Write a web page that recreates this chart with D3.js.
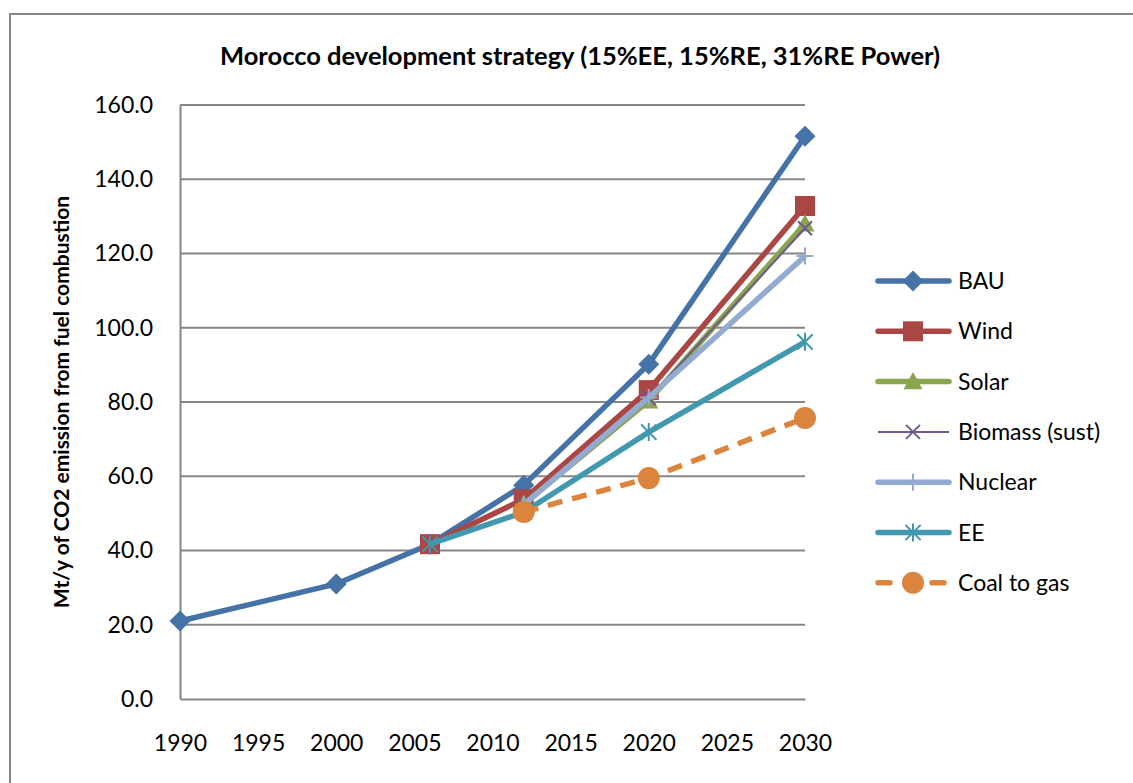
<!DOCTYPE html>
<html>
<head>
<meta charset="utf-8">
<script src="https://cdn.jsdelivr.net/npm/d3@7"></script>
<style>
  body { margin: 0; background: #fff; }
  text { font-family: Lato, "Open Sans", sans-serif; fill: #000; }
</style>
</head>
<body>
<script>
// chart data
var years = [1990, 2000, 2006, 2012, 2020, 2030];
var yTicks = [0, 20, 40, 60, 80, 100, 120, 140, 160];
var xTicks = [1990, 1995, 2000, 2005, 2010, 2015, 2020, 2025, 2030];

var bau = [21.0, 31.0, 41.7, 57.6, 90.2, 151.6];
var wind = [null, null, 41.7, 53.8, 83.2, 132.8];
var solar = [null, null, null, 52.5, 80.3, 128.0];
var biomass = [null, null, null, 52.3, 81.0, 126.8];
var nuclear = [null, null, null, 52.3, 81.2, 119.3];
var ee = [null, null, 41.7, 50.3, 71.9, 96.2];
var coalToGas = [null, null, null, 50.4, 59.5, 75.7];

var seriesNames = ["BAU", "Wind", "Solar", "Biomass (sust)", "Nuclear", "EE", "Coal to gas"];
var seriesValues = [bau, wind, solar, biomass, nuclear, ee, coalToGas];
var seriesColors = ["#4572A7", "#AA4643", "#89A54E", "#71588F", "#93AAD2", "#4198AF", "#DB843D"];
var seriesMarkers = ["diamond", "square", "triangle", "x", "plus", "star", "circle"];

var width = 1133, height = 783;

var svg = d3.select("body").append("svg")
    .attr("width", width)
    .attr("height", height);

// outer chart frame (runs off the bottom/right of the picture)
svg.append("rect")
    .attr("x", 10).attr("y", 14)
    .attr("width", 1140).attr("height", 800)
    .attr("fill", "none")
    .attr("stroke", "#868686")
    .attr("stroke-width", 2);

var x = d3.scaleLinear().domain([1990, 2030]).range([180, 805]);
var y = d3.scaleLinear().domain([0, 160]).range([699, 105]);

// gridlines
svg.append("g")
  .selectAll("line")
  .data(yTicks.slice(1))
  .enter().append("line")
    .attr("x1", x(1990)).attr("x2", x(2030))
    .attr("y1", function(d) { return y(d); })
    .attr("y2", function(d) { return y(d); })
    .attr("stroke", "#868686")
    .attr("stroke-width", 2);

// axes
var yAxis = svg.append("g")
    .attr("transform", "translate(" + x(1990) + ",0)")
    .call(d3.axisLeft(y).tickValues(yTicks).tickFormat(d3.format(".1f")).tickSize(0).tickPadding(27));
var xAxis = svg.append("g")
    .attr("transform", "translate(0," + y(0) + ")")
    .call(d3.axisBottom(x).tickValues(xTicks).tickFormat(d3.format("d")).tickSize(0).tickPadding(36));
[xAxis, yAxis].forEach(function(a) {
  a.select(".domain").attr("stroke", "#868686").attr("stroke-width", 2);
  a.selectAll("text").style("font-size", "23px");
});

// marker shapes
function markerPath(type, s) {
  var h = s / 2;
  if (type == "diamond") return "M0," + (-h) + "L" + h + ",0L0," + h + "L" + (-h) + ",0Z";
  if (type == "square") return "M" + (-h) + "," + (-h) + "h" + s + "v" + s + "h" + (-s) + "Z";
  if (type == "triangle") return "M0," + (-h) + "L" + h + "," + (h * 0.8) + "L" + (-h) + "," + (h * 0.8) + "Z";
  if (type == "x") return "M" + (-h) + "," + (-h) + "L" + h + "," + h + "M" + (-h) + "," + h + "L" + h + "," + (-h);
  if (type == "plus") return "M0," + (-h) + "V" + h + "M" + (-h) + ",0H" + h;
  if (type == "star") return "M0," + (-h) + "V" + h + "M" + (-h * 0.85) + "," + (-h * 0.85) + "L" + (h * 0.85) + "," + (h * 0.85) +
    "M" + (-h * 0.85) + "," + (h * 0.85) + "L" + (h * 0.85) + "," + (-h * 0.85);
  return d3.symbol().type(d3.symbolCircle).size(Math.PI * h * h)();
}
var markerSize = [21, 20, 19, 14, 17, 18, 22];
function drawMarker(g, i, cx, cy) {
  var t = seriesMarkers[i];
  var open = (t == "x" || t == "plus" || t == "star");
  g.append("path")
    .attr("transform", "translate(" + cx + "," + cy + ")")
    .attr("d", markerPath(t, markerSize[i]))
    .attr("fill", open ? "none" : seriesColors[i])
    .attr("stroke", open ? seriesColors[i] : "none")
    .attr("stroke-width", 2);
}

var line = d3.line()
    .defined(function(d) { return d[1] != null; })
    .x(function(d) { return x(d[0]); })
    .y(function(d) { return y(d[1]); });

// series, first one drawn at the bottom like excel does
seriesValues.forEach(function(vals, i) {
  var pts = years.map(function(yr, j) { return [yr, vals[j]]; });
  var g = svg.append("g");
  g.append("path")
    .datum(pts)
    .attr("d", line)
    .attr("fill", "none")
    .attr("stroke", seriesColors[i])
    .attr("stroke-width", i == 3 ? 2 : 5.5)
    .attr("stroke-dasharray", i == 6 ? "15,10" : null);
  pts.forEach(function(p) {
    if (p[1] != null) drawMarker(g, i, x(p[0]), y(p[1]));
  });
});

// title
svg.append("text")
    .attr("x", 580).attr("y", 65)
    .attr("text-anchor", "middle")
    .style("font-size", "25.5px")
    .style("font-weight", "bold")
    .text("Morocco development strategy (15%EE, 15%RE, 31%RE Power)");

// y axis title
svg.append("text")
    .attr("transform", "translate(69,402) rotate(-90)")
    .attr("text-anchor", "middle")
    .style("font-size", "21px")
    .style("font-weight", "bold")
    .text("Mt/y of CO2 emission from fuel combustion");

// legend
var legend = svg.append("g");
seriesNames.forEach(function(name, i) {
  var ly = 281 + i * 50.3;
  legend.append("line")
    .attr("x1", 878).attr("x2", 949)
    .attr("y1", ly).attr("y2", ly)
    .attr("stroke", seriesColors[i])
    .attr("stroke-width", i == 3 ? 2 : 5.5)
    .attr("stroke-linecap", i == 3 ? "butt" : "round")
    .attr("stroke-dasharray", i == 6 ? "12,15" : null);
  drawMarker(legend, i, 913, ly);
  legend.append("text")
    .attr("x", 958).attr("y", ly + 8)
    .style("font-size", "23px")
    .text(name);
});
</script>
</body>
</html>
